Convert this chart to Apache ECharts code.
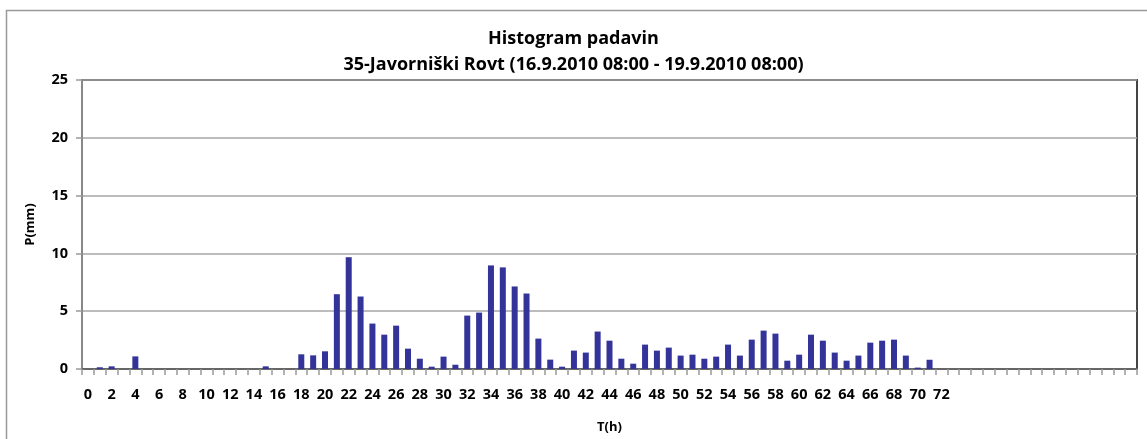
<!DOCTYPE html>
<html>
<head>
<meta charset="utf-8">
<script src="https://cdn.jsdelivr.net/npm/echarts@6/dist/echarts.min.js"></script>
<style>
  html, body { margin: 0; padding: 0; background: #fff; }
  #chart { width: 1147px; height: 439px; }
</style>
</head>
<body>
<div id="chart"></div>
<script>
// hours 0..88, labels only on even hours up to 72
const hours = [];
for (let h = 0; h <= 88; h++) hours.push(h);
const hourLabels = hours.map(h => (h % 2 === 0 && h <= 72) ? String(h) : '');

// precipitation per hour (mm)
const rain = [
  0, 0.15, 0.23, 0, 1.09, 0, 0, 0, 0, 0,
  0, 0, 0, 0, 0, 0.23, 0, 0, 1.27, 1.18,
  1.53, 6.47, 9.67, 6.27, 3.93, 2.97, 3.75, 1.76, 0.89, 0.2,
  1.07, 0.37, 4.62, 4.88, 8.96, 8.79, 7.14, 6.53, 2.63, 0.81,
  0.2, 1.59, 1.42, 3.24, 2.45, 0.89, 0.46, 2.11, 1.59, 1.85,
  1.16, 1.24, 0.89, 1.07, 2.11, 1.16, 2.54, 3.32, 3.06, 0.72,
  1.24, 2.97, 2.45, 1.42, 0.72, 1.16, 2.28, 2.45, 2.54, 1.16,
  0.12, 0.8, 0, 0, 0, 0, 0, 0, 0, 0,
  0, 0, 0, 0, 0, 0, 0, 0, 0
];

const yTicks = [0, 5, 10, 15, 20, 25];

const font = '"Open Sans", "Noto Sans", sans-serif';
let chart = echarts.init(document.getElementById('chart'));
let option = {
  animation: false,
  title: {
    text: 'Histogram padavin\n35-Javorniški Rovt (16.9.2010 08:00 - 19.9.2010 08:00)',
    left: 'center',
    top: 21,
    textStyle: {
      fontFamily: font,
      fontSize: 18,
      fontWeight: 'bold',
      color: '#000',
      lineHeight: 26
    }
  },
  graphic: [{
    type: 'rect',
    shape: { x: 6.5, y: 10.5, width: 1300, height: 600 },
    style: { fill: 'none', stroke: '#999', lineWidth: 1.5 },
    silent: true
  }],
  grid: {
    left: 82, right: 10, top: 80, bottom: 69,
    show: true,
    borderColor: '#444',
    borderWidth: 2
  },
  xAxis: {
    type: 'category',
    data: hourLabels,
    boundaryGap: true,
    name: 'T(h)',
    nameLocation: 'middle',
    nameGap: 52,
    nameTextStyle: { fontFamily: font, fontSize: 13, fontWeight: 'bold', color: '#000' },
    axisLine: { lineStyle: { color: '#666', width: 2 } },
    axisTick: { show: true, interval: 0, length: 6, lineStyle: { color: '#999', width: 1.5 } },
    axisLabel: {
      interval: 0,
      margin: 18,
      fontFamily: font, fontSize: 14.5, fontWeight: 'bold', color: '#000'
    }
  },
  yAxis: {
    type: 'value',
    min: 0, max: 25, interval: 5,
    name: 'P(mm)',
    nameLocation: 'middle',
    nameGap: 45,
    nameTextStyle: { fontFamily: font, fontSize: 13, fontWeight: 'bold', color: '#000' },
    axisLine: { show: true, lineStyle: { color: '#888', width: 2 } },
    axisTick: { show: true, length: 6, lineStyle: { color: '#999', width: 1.5 } },
    axisLabel: {
      margin: 14,
      fontFamily: font, fontSize: 14.5, fontWeight: 'bold', color: '#000',
      formatter: v => yTicks.includes(v) ? String(v) : ''
    },
    splitLine: { lineStyle: { color: '#a6a6a6', width: 1.5 } }
  },
  series: [{
    type: 'bar',
    data: rain,
    barWidth: 6,
    itemStyle: { color: '#333399' }
  }]
};
chart.setOption(option);
</script>
</body>
</html>
